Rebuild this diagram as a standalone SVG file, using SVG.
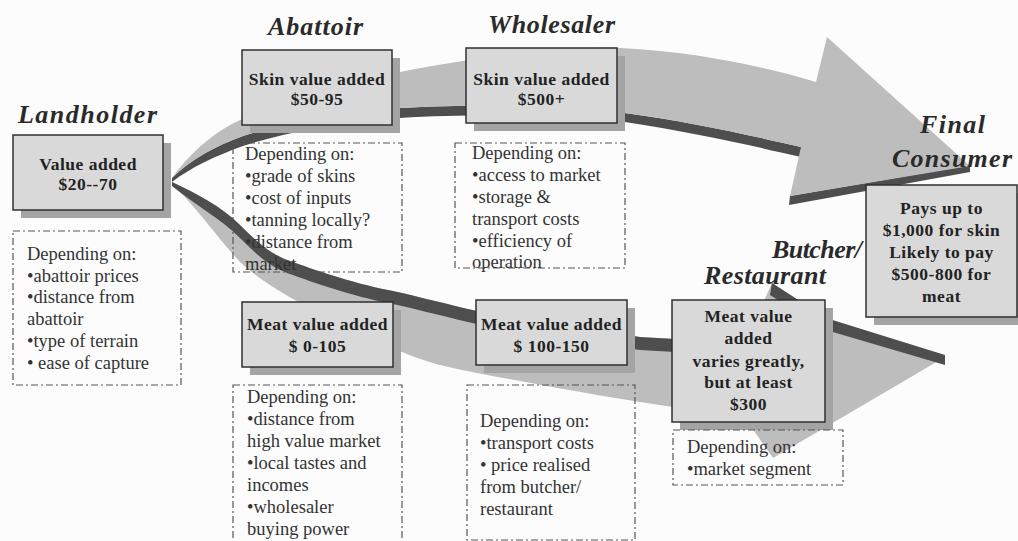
<svg xmlns="http://www.w3.org/2000/svg" width="1018" height="541" viewBox="0 0 1018 541">
<style>
.face{fill:#bdbdbd}
.dark{fill:#4e4e4e}
.box{fill:#d9d9d9;stroke:#2f2f2f;stroke-width:1.5}
.shadow{fill:#a4a4a4}
.note{fill:none;stroke:#555;stroke-width:1.2;stroke-dasharray:7 3 2 3}
.title{font-family:"Liberation Serif","Times New Roman",serif;font-style:italic;font-weight:bold;font-size:26px;fill:#2a2a2a}
.bt{font-family:"Liberation Serif","Times New Roman",serif;font-weight:bold;font-size:17.5px;fill:#222;text-anchor:middle;letter-spacing:0.5px}
.nt{font-family:"Liberation Serif","Times New Roman",serif;font-size:18.5px;fill:#333}
</style>
<rect width="1018" height="541" fill="#fcfcfc"/>

<g id="connectors">
  <path class="dark" d="M172,178 C190,160 215,146 243,136 C280,124 330,114 400,108 C470,104 560,104 625,113 C690,122 740,133 801,147 L801,157 C740,143 690,132 625,122 C560,114 470,114 400,118 C330,124 280,134 243,146 C215,156 190,168 172,182 Z"/>
  <path class="dark" d="M790,196 L970,165 L970,172 L789,205 Z"/>
  <path class="face" d="M172,178 C185,160 210,132 245,118 C300,95 360,78 400,72 C470,58 560,46 620,48 C700,52 770,68 816,82 L827,37 L970,166 L790,196 L801,147 C740,133 690,122 625,113 C560,104 470,104 400,108 C330,114 280,124 243,136 C215,146 190,160 172,178 Z"/>
  <path class="face" d="M172,182 C195,193 220,205 240,225 C255,240 270,255 293,262 C320,272 360,285 393,291 C420,297 450,305 477,311 C540,322 600,332 640,337 L745,343 L772,283 L826,318 L945,357 L773,458 L745,418 L640,402 C600,396 540,385 477,373 C450,368 425,362 402,352 C320,315 270,290 240,262 C215,235 195,205 172,184 Z"/>
  <path class="dark" d="M172,182 C195,193 220,205 240,225 C255,240 270,255 293,262 C320,272 360,285 393,291 C420,297 450,305 477,311 C540,322 600,332 640,337 L745,343 L745,356 L640,350 C600,345 540,335 477,324 C450,318 420,310 393,304 C360,298 320,285 293,275 C270,268 255,253 240,238 C220,218 195,205 172,186 Z"/>
  <path class="dark" d="M772,283 L826,318 L945,355 L945,365 L826,330 L770,295 Z"/>
</g>

<g id="landholder">
  <text class="title" x="18" y="123" textLength="139" lengthAdjust="spacing">Landholder</text>
  <rect class="shadow" x="21" y="143" width="150" height="75"/>
  <rect class="box" x="13" y="135" width="150" height="75"/>
  <text class="bt" x="88" y="170">Value added</text>
  <text class="bt" x="88" y="190">$20--70</text>
  <rect class="note" x="13" y="231" width="168" height="154"/>
  <text class="nt" x="27" y="260">Depending on:</text>
  <text class="nt" x="27" y="282">•abattoir prices</text>
  <text class="nt" x="27" y="303">•distance from</text>
  <text class="nt" x="27" y="325">abattoir</text>
  <text class="nt" x="27" y="347">•type of terrain</text>
  <text class="nt" x="27" y="369">• ease of capture</text>
</g>

<g id="abattoir-skin">
  <text class="title" x="268" y="35" textLength="95" lengthAdjust="spacing">Abattoir</text>
  <rect class="shadow" x="250" y="58" width="150" height="75"/>
  <rect class="box" x="242" y="50" width="150" height="75"/>
  <text class="bt" x="317" y="85">Skin value added</text>
  <text class="bt" x="317" y="105">$50-95</text>
  <rect class="note" x="233" y="143" width="169" height="129"/>
  <text class="nt" x="245" y="160">Depending on:</text>
  <text class="nt" x="245" y="182">•grade of skins</text>
  <text class="nt" x="245" y="204">•cost of inputs</text>
  <text class="nt" x="245" y="226">•tanning locally?</text>
  <text class="nt" x="245" y="248">•distance from</text>
  <text class="nt" x="245" y="270">market</text>
</g>

<g id="wholesaler-skin">
  <text class="title" x="488" y="33" textLength="127" lengthAdjust="spacing">Wholesaler</text>
  <rect class="shadow" x="474" y="56" width="151" height="75"/>
  <rect class="box" x="466" y="48" width="151" height="75"/>
  <text class="bt" x="541.5" y="85">Skin value added</text>
  <text class="bt" x="541.5" y="105">$500+</text>
  <rect class="note" x="455" y="143" width="170" height="125"/>
  <text class="nt" x="472" y="159">Depending on:</text>
  <text class="nt" x="472" y="181">•access to market</text>
  <text class="nt" x="472" y="203">•storage &amp;</text>
  <text class="nt" x="472" y="225">transport costs</text>
  <text class="nt" x="472" y="247">•efficiency of</text>
  <text class="nt" x="472" y="268">operation</text>
</g>

<g id="abattoir-meat">
  <rect class="shadow" x="250" y="310" width="151" height="65"/>
  <rect class="box" x="242" y="302" width="151" height="65"/>
  <text class="bt" x="317.5" y="330">Meat value added</text>
  <text class="bt" x="317.5" y="352">$ 0-105</text>
  <rect class="note" x="233" y="385" width="169" height="170"/>
  <text class="nt" x="247" y="403">Depending on:</text>
  <text class="nt" x="247" y="425">•distance from</text>
  <text class="nt" x="247" y="447">high value market</text>
  <text class="nt" x="247" y="469">•local tastes and</text>
  <text class="nt" x="247" y="491">incomes</text>
  <text class="nt" x="247" y="513">•wholesaler</text>
  <text class="nt" x="247" y="535">buying power</text>
</g>

<g id="wholesaler-meat">
  <rect class="shadow" x="484" y="308" width="151" height="65"/>
  <rect class="box" x="476" y="300" width="151" height="65"/>
  <text class="bt" x="551.5" y="330">Meat value added</text>
  <text class="bt" x="551.5" y="352">$ 100-150</text>
  <rect class="note" x="467" y="385" width="168" height="155"/>
  <text class="nt" x="480" y="427">Depending on:</text>
  <text class="nt" x="480" y="449">•transport costs</text>
  <text class="nt" x="480" y="471">• price realised</text>
  <text class="nt" x="480" y="493">from butcher/</text>
  <text class="nt" x="480" y="515">restaurant</text>
</g>

<g id="final-consumer">
  <text class="title" x="920" y="133" textLength="65" lengthAdjust="spacing">Final</text>
  <text class="title" x="892" y="167" textLength="120" lengthAdjust="spacing">Consumer</text>
  <rect class="shadow" x="874" y="193" width="151" height="132"/>
  <rect class="box" x="866" y="185" width="151" height="132"/>
  <text class="bt" x="941.5" y="214">Pays up to</text>
  <text class="bt" x="941.5" y="236">$1,000 for skin</text>
  <text class="bt" x="941.5" y="258">Likely to pay</text>
  <text class="bt" x="941.5" y="280">$500-800 for</text>
  <text class="bt" x="941.5" y="302">meat</text>
</g>

<g id="butcher-restaurant">
  <text class="title" x="772" y="258" textLength="90" lengthAdjust="spacing">Butcher/</text>
  <text class="title" x="704" y="284" textLength="122" lengthAdjust="spacing">Restaurant</text>
  <rect class="shadow" x="680" y="308" width="153" height="122"/>
  <rect class="box" x="672" y="300" width="153" height="122"/>
  <text class="bt" x="748.5" y="322">Meat value</text>
  <text class="bt" x="748.5" y="344">added</text>
  <text class="bt" x="748.5" y="367">varies greatly,</text>
  <text class="bt" x="748.5" y="388">but at least</text>
  <text class="bt" x="748.5" y="410">$300</text>
  <rect class="note" x="673" y="430" width="170" height="55"/>
  <text class="nt" x="687" y="453">Depending on:</text>
  <text class="nt" x="687" y="475">•market segment</text>
</g>
</svg>
